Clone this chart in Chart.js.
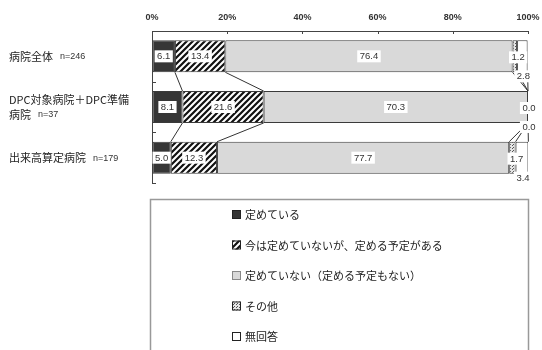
<!DOCTYPE html>
<html>
<head>
<meta charset="utf-8">
<script src="https://cdn.jsdelivr.net/npm/chart.js@4/dist/chart.umd.min.js"></script>
<style>
  html, body { margin: 0; padding: 0; background: #fff; }
  #wrap { width: 542px; height: 350px; }
</style>
</head>
<body>
<div id="wrap"><canvas id="chart" width="542" height="350"></canvas></div>
<script>
// data
const categories = ['病院全体', 'DPC対象病院＋DPC準備病院', '出来高算定病院'];
const categoryLines = [['病院全体'], ['DPC対象病院＋DPC準備', '病院'], ['出来高算定病院']];
const counts = ['n=246', 'n=37', 'n=179'];
const seriesNames = ['定めている', '今は定めていないが、定める予定がある', '定めていない（定める予定もない）', 'その他', '無回答'];
const decided = [6.1, 8.1, 5.0];
const planned = [13.4, 21.6, 12.3];
const notDecided = [76.4, 70.3, 77.7];
const other = [1.2, 0.0, 1.7];
const noAnswer = [2.8, 0.0, 3.4];
const xTicks = [0, 20, 40, 60, 80, 100];

function makePattern(size, draw) {
    const c = document.createElement('canvas');
    c.width = size; c.height = size;
    const g = c.getContext('2d');
    draw(g, size);
    return document.getElementById('chart').getContext('2d').createPattern(c, 'repeat');
}

const hatchFill = makePattern(6, function (g, s) {
    g.fillStyle = '#fff';
    g.fillRect(0, 0, s, s);
    g.strokeStyle = '#111';
    g.lineWidth = 2.2;
    g.beginPath();
    g.moveTo(0, s); g.lineTo(s, 0);
    g.moveTo(-2, 2); g.lineTo(2, -2);
    g.moveTo(s - 2, s + 2); g.lineTo(s + 2, s - 2);
    g.stroke();
});

const dotFill = makePattern(3, function (g, s) {
    g.fillStyle = '#e6e6e6';
    g.fillRect(0, 0, s, s);
    g.fillStyle = '#555';
    g.fillRect(0, 0, 1, 1);
    g.fillRect(2, 1, 1, 1);
});

const fills = ['#363636', hatchFill, '#d9d9d9', dotFill, '#ffffff'];
const values = [decided, planned, notDecided, other, noAnswer];

const numFont = '9.5px "Liberation Sans", Arial, sans-serif';

function valueBox(ctx, text, x, y) {
    ctx.font = numFont;
    const w = ctx.measureText(text).width;
    ctx.fillStyle = '#fff';
    ctx.fillRect(x - w / 2 - 2.5, y - 6, w + 5, 12);
    ctx.fillStyle = '#333';
    ctx.textAlign = 'center';
    ctx.textBaseline = 'middle';
    ctx.fillText(text, x, y + 0.5);
}

const extras = {
    id: 'extras',
    beforeDatasetsDraw(chart) {
        // series lines between bars
        const ctx = chart.ctx;
        ctx.save();
        ctx.strokeStyle = '#333';
        ctx.lineWidth = 1;
        chart.data.datasets.forEach(function (ds, k) {
            const els = chart.getDatasetMeta(k).data;
            for (let i = 0; i < els.length - 1; i++) {
                const a = els[i], b = els[i + 1];
                ctx.beginPath();
                ctx.moveTo(a.x, a.y + a.height / 2);
                ctx.lineTo(b.x, b.y - b.height / 2);
                ctx.stroke();
            }
        });
        ctx.restore();
    },
    afterDatasetsDraw(chart) {
        const ctx = chart.ctx;
        ctx.save();
        chart.data.datasets.forEach(function (ds, k) {
            chart.getDatasetMeta(k).data.forEach(function (el, i) {
                const t = ds.data[i].toFixed(1);
                if (k < 3) {
                    valueBox(ctx, t, (el.x + el.base) / 2, el.y);
                } else if (k === 3) {
                    valueBox(ctx, t, el.x + 1, el.y + 1);
                } else {
                    valueBox(ctx, t, (el.x + el.base) / 2 + 1, el.y + el.height / 2 + 4);
                }
            });
        });
        ctx.restore();
    },
    afterDraw(chart) {
        const ctx = chart.ctx;
        const area = chart.chartArea;
        const xs = chart.scales.x;
        const ys = chart.scales.y;
        ctx.save();
        ctx.strokeStyle = '#444';
        ctx.lineWidth = 1;
        // top axis ticks pointing down
        xTicks.forEach(function (v) {
            const px = Math.round(xs.getPixelForValue(v)) + 0.5;
            ctx.beginPath();
            ctx.moveTo(px, area.top);
            ctx.lineTo(px, area.top + 3);
            ctx.stroke();
        });
        // category boundary ticks on left axis
        const band = (area.bottom - area.top) / categories.length;
        for (let i = 1; i <= categories.length; i++) {
            const py = Math.round(area.top + band * i) + 0.5;
            ctx.beginPath();
            ctx.moveTo(area.left, py);
            ctx.lineTo(area.left + 4, py);
            ctx.stroke();
        }
        // category labels
        ctx.textAlign = 'left';
        ctx.textBaseline = 'middle';
        categoryLines.forEach(function (lines, i) {
            const cy = ys.getPixelForValue(i);
            const y0 = cy - (lines.length - 1) * 7.5;
            lines.forEach(function (line, j) {
                ctx.font = '11px "Noto Sans CJK JP", sans-serif';
                ctx.fillStyle = '#222';
                const y = y0 + j * 15;
                ctx.fillText(line, 9, y);
                if (j === lines.length - 1) {
                    const w = ctx.measureText(line).width;
                    ctx.font = '9px "Liberation Sans", Arial, sans-serif';
                    ctx.fillStyle = '#333';
                    ctx.fillText(counts[i], 9 + w + 7, y + 0.5);
                }
            });
        });
        // legend box
        ctx.strokeStyle = '#999';
        ctx.lineWidth = 1.5;
        ctx.strokeRect(150.5, 199.5, 378, 170);
        chart.data.datasets.forEach(function (ds, k) {
            const y = 215 + k * 30.5;
            ctx.fillStyle = ds.backgroundColor;
            ctx.fillRect(232, y - 5, 9, 9);
            ctx.strokeStyle = k === 2 ? '#888' : '#222';
            ctx.lineWidth = 1;
            ctx.strokeRect(232.5, y - 4.5, 8, 8);
            ctx.fillStyle = '#222';
            ctx.font = '11px "Noto Sans CJK JP", sans-serif';
            ctx.textBaseline = 'middle';
            ctx.fillText(ds.label, 245, y);
        });
        ctx.restore();
    }
};

const datasets = seriesNames.map(function (name, k) {
    return {
        label: name,
        data: values[k],
        backgroundColor: fills[k],
        borderColor: '#3a3a3a',
        borderWidth: 1,
        borderSkipped: false,
        categoryPercentage: 1,
        barPercentage: 0.63
    };
});

const config = {
    type: 'bar',
    data: { labels: categories, datasets: datasets },
    options: {
        indexAxis: 'y',
        responsive: false,
        animation: false,
        layout: { padding: { left: 0, right: 14, top: 0, bottom: 167 } },
        plugins: { legend: { display: false }, tooltip: { enabled: false } },
        scales: {
            x: {
                position: 'top',
                stacked: true,
                min: 0,
                max: 100,
                afterFit: function (scale) {
                    scale.height = 31;
                    scale.paddingLeft = 0;
                    scale.paddingRight = 0;
                },
                afterBuildTicks: function (scale) {
                    scale.ticks = xTicks.map(function (v) { return { value: v }; });
                },
                grid: { drawOnChartArea: false, drawTicks: false },
                border: { display: true, color: '#444', width: 1 },
                ticks: {
                    padding: 8,
                    color: '#333',
                    font: { family: '"Liberation Sans", Arial, sans-serif', size: 9, weight: 'bold' },
                    callback: function (v) { return v + '%'; }
                }
            },
            y: {
                stacked: true,
                afterFit: function (scale) { scale.width = 152; },
                grid: { display: false },
                border: { display: true, color: '#444', width: 1 },
                ticks: { display: false }
            }
        }
    },
    plugins: [extras]
};

const myChart = new Chart(document.getElementById('chart'), config);
</script>
</body>
</html>
